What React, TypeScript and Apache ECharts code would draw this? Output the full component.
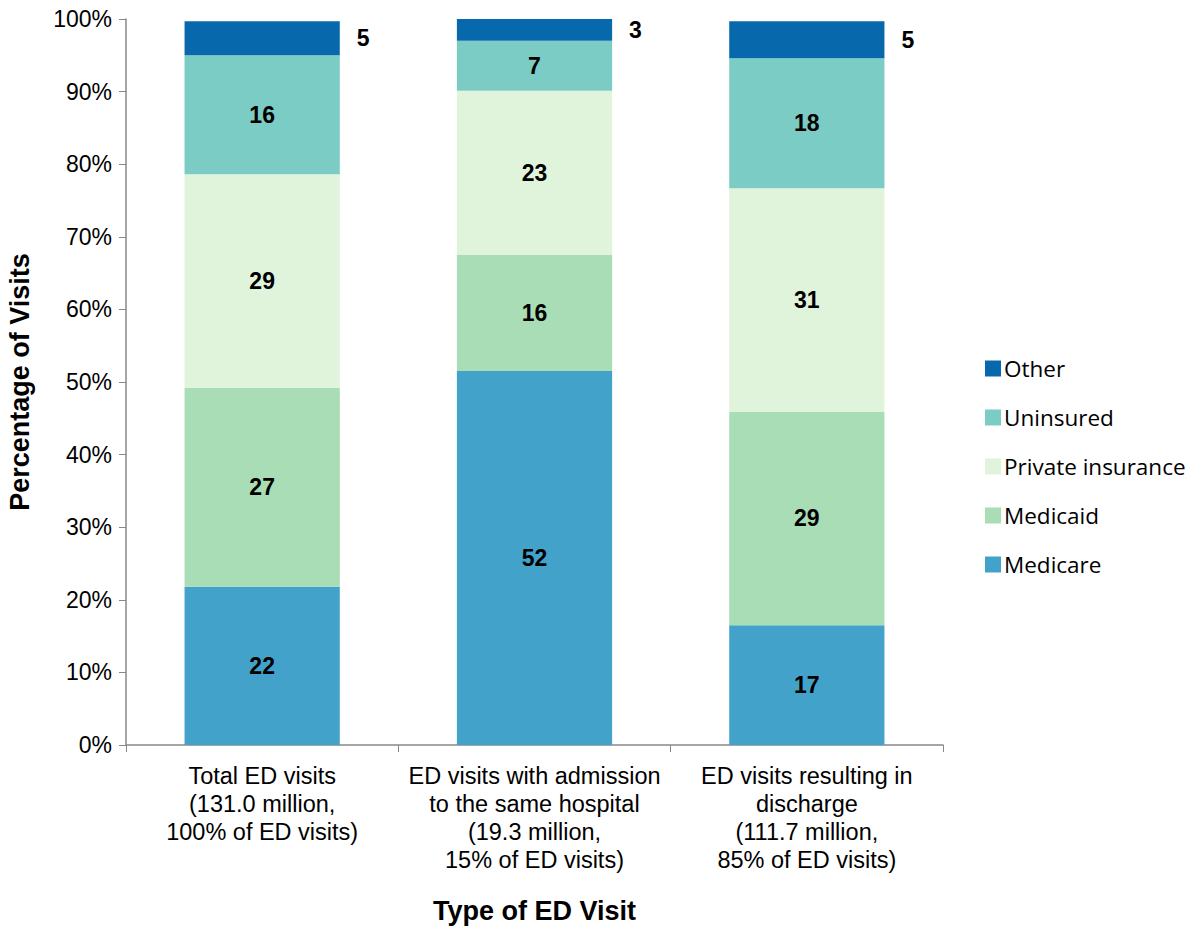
import React, { useEffect, useRef } from "react";
import * as echarts from "echarts";

const categories = [
  "Total ED visits\n(131.0 million,\n100% of ED visits)",
  "ED visits with admission\nto the same hospital\n(19.3 million,\n15% of ED visits)",
  "ED visits resulting in\ndischarge\n(111.7 million,\n85% of ED visits)",
];
const medicare = [21.8, 51.5, 16.5];
const medicaid = [27.4, 16.0, 29.4];
const privateIns = [29.4, 22.6, 30.8];
const uninsured = [16.4, 6.9, 17.9];
const other = [4.7, 3.0, 5.1];
const yTicks = [0, 10, 20, 30, 40, 50, 60, 70, 80, 90, 100];

const FONT = "'Liberation Sans', Arial, sans-serif";

export default function App() {
  const ref = useRef<HTMLDivElement>(null);
  useEffect(() => {
    if (!ref.current) return;
    const chart = echarts.init(ref.current, undefined, { renderer: "svg" });
    const labelInside = {
      show: true,
      position: "inside" as const,
      fontFamily: FONT,
      fontWeight: "bold" as const,
      fontSize: 23,
      color: "#000",
      formatter: (p: any) => String(Math.round(p.value)),
    };
    const mk = (name: string, data: number[], color: string, label: any) => ({
      name,
      type: "bar" as const,
      stack: "total",
      data,
      barWidth: "57%",
      itemStyle: { color },
      label,
    });
    chart.setOption({
      animation: false,
      textStyle: { fontFamily: FONT },
      grid: { left: 126, right: 256, top: 19, bottom: 181, outerBoundsMode: "none", containLabel: false },
      legend: {
        orient: "vertical",
        left: 980,
        top: 352,
        itemWidth: 16,
        itemHeight: 16,
        itemGap: 26,
        data: ["Other", "Uninsured", "Private insurance", "Medicaid", "Medicare"],
        textStyle: { fontFamily: "'Open Sans', Lato, sans-serif", fontSize: 22.5, color: "#000", padding: [0, 0, 0, -2] },
        icon: "rect",
      },
      xAxis: {
        type: "category",
        data: categories,
        name: "Type of ED Visit",
        nameLocation: "middle",
        nameGap: 152,
        nameTextStyle: { fontFamily: FONT, fontWeight: "bold", fontSize: 27, color: "#000" },
        axisLine: { lineStyle: { color: "#888", width: 1.5 } },
        axisTick: { show: true, length: 7, lineStyle: { color: "#888" } },
        axisLabel: { fontFamily: FONT, fontSize: 23.5, color: "#000", lineHeight: 28, margin: 17, interval: 0 },
      },
      yAxis: {
        type: "value",
        min: 0,
        max: 100,
        interval: 10,
        name: "Percentage of Visits",
        nameLocation: "middle",
        nameGap: 93,
        nameTextStyle: { fontFamily: FONT, fontWeight: "bold", fontSize: 27, color: "#000" },
        axisLine: { show: true, lineStyle: { color: "#888", width: 1.5 } },
        axisTick: { show: true, length: 7, lineStyle: { color: "#888" } },
        splitLine: { show: false },
        axisLabel: {
          fontFamily: FONT,
          fontSize: 23,
          color: "#000",
          margin: 14,
          formatter: (v: number) => (yTicks.includes(v) ? v + "%" : ""),
        },
      },
      series: [
        mk("Medicare", medicare, "#43A2CA", labelInside),
        mk("Medicaid", medicaid, "#A8DDB5", labelInside),
        mk("Private insurance", privateIns, "#E0F3DB", labelInside),
        mk("Uninsured", uninsured, "#7BCCC4", labelInside),
        mk("Other", other, "#0868AC", { ...labelInside, position: "right", distance: 17 }),
      ],
    });
    return () => chart.dispose();
  }, []);
  return (
    <div
      ref={ref}
      style={{ position: "fixed", left: 0, top: 0, width: 1199, height: 926, background: "#fff" }}
    />
  );
}
